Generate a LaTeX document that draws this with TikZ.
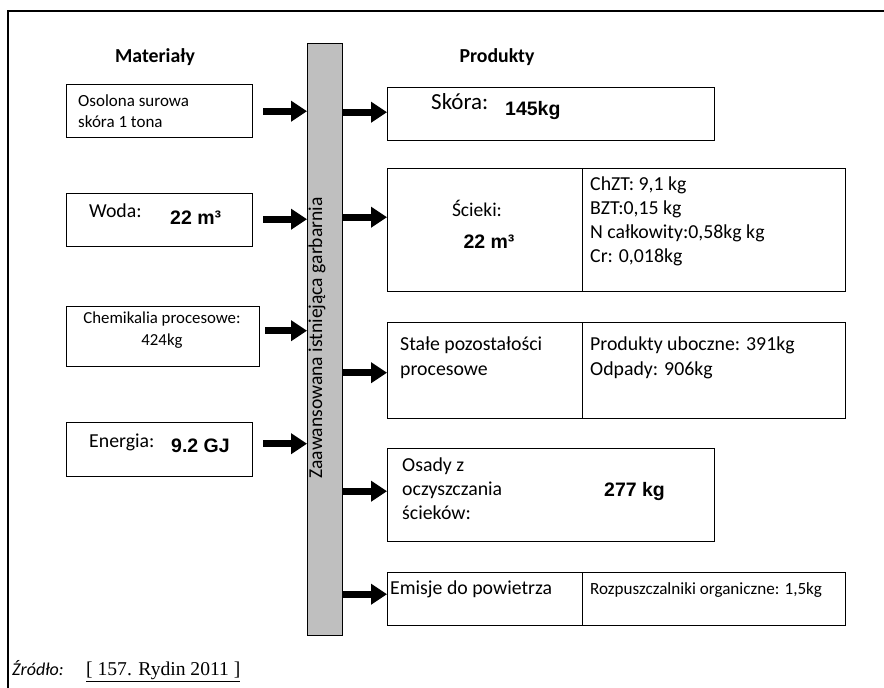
\documentclass[tikz,border=0pt]{standalone}
\usepackage{fontspec}
\setmainfont{Carlito}
\newfontfamily\numfont{Liberation Sans}
\newfontfamily\srcfont{Liberation Serif}
\usetikzlibrary{arrows.meta,calc}
\tikzset{
  box/.style={draw, line width=1.4pt, anchor=north west, inner sep=0pt},
  txt/.style={anchor=north west, inner sep=0pt, align=left, font=\fontsize{19.8}{24}\selectfont},
  word/.style={anchor=mid west, inner sep=0pt, font=\fontsize{19.8}{22}\selectfont},
  num/.style={anchor=mid west, inner sep=0pt, font=\numfont\bfseries\fontsize{19.5}{22}\selectfont},
  head/.style={anchor=mid, inner sep=0pt, font=\bfseries\fontsize{19.8}{22}\selectfont},
  flow/.style={line width=7pt, -{Triangle[length=16pt,width=20pt]}},
}
\begin{document}
\begin{tikzpicture}[x=1pt,y=-1pt]
\useasboundingbox (0,0) rectangle (884,688);
% frame
\draw[line width=1.5pt] (8,688) -- (8,11) -- (884,11);
\node[head] (mat) at (155,60) {Materiały};
\node[head] (prod) at (497,60) {Produkty};

% tannery bar
\node[box, fill=black!25, minimum width=35pt, minimum height=592pt] (bar) at (307,43) {};
\node[rotate=90, inner sep=0pt, font=\fontsize{19.6}{22}\selectfont] (bar-t) at (317,338) {Zaawansowana istniejąca garbarnia};

% inputs
\node[box, minimum width=186pt, minimum height=53pt] (hide) at (66,84) {};
\node[txt, font=\fontsize{17}{21}\selectfont] (hide-t) at (78,94) {Osolona surowa\\skóra 1 tona};

\node[box, minimum width=186pt, minimum height=53pt] (water) at (66,193) {};
\node[word] (water-t) at (89,215) {Woda:};
\node[num] (water-n) at (170,222) {22 m³};

\node[box, minimum width=193pt, minimum height=60pt] (chem) at (66,306) {};
\node[align=center, inner sep=0pt, font=\fontsize{16.8}{22}\selectfont] (chem-t) at (162,330) {Chemikalia procesowe:\\424kg};

\node[box, minimum width=186pt, minimum height=54pt] (energy) at (66,422) {};
\node[word] (energy-t) at (89,445) {Energia:};
\node[num] (energy-n) at (171,450) {9.2 GJ};

% outputs
\node[box, minimum width=327pt, minimum height=53pt] (leather) at (387,87) {};
\node[word, font=\fontsize{23}{26}\selectfont] (leather-t) at (431,107) {Skóra:};
\node[num] (leather-n) at (505,113) {145kg};

\node[box, minimum width=195pt, minimum height=123pt] (waste) at (387,168) {};
\node[box, minimum width=263pt, minimum height=123pt] (waste-r) at (582,168) {};
\node[anchor=mid, inner sep=0pt, font=\fontsize{19.5}{22}\selectfont] (waste-t) at (477,214) {Ścieki:};
\node[anchor=mid, inner sep=0pt, font=\numfont\bfseries\fontsize{19.5}{22}\selectfont] (waste-n) at (489,246) {22 m³};
\node[txt] (waste-r-t) at (590,177) {ChZT: 9,1 kg\\BZT:0,15 kg\\N całkowity:0,58kg kg\\Cr: 0,018kg};

\node[box, minimum width=195pt, minimum height=96pt] (solid) at (387,322) {};
\node[box, minimum width=263pt, minimum height=96pt] (solid-r) at (582,322) {};
\node[txt, font=\fontsize{19.8}{25}\selectfont] (solid-t) at (400,337) {Stałe pozostałości\\procesowe};
\node[txt, font=\fontsize{19.8}{25}\selectfont] (solid-r-t) at (590,337) {Produkty uboczne: 391kg\\Odpady: 906kg};

\node[box, minimum width=327pt, minimum height=93pt] (sludge) at (387,448) {};
\node[txt] (sludge-t) at (402,458) {Osady z\\oczyszczania\\ścieków:};
\node[num] (sludge-n) at (604,494) {277 kg};

\node[box, minimum width=195pt, minimum height=53pt] (air) at (387,572) {};
\node[box, minimum width=263pt, minimum height=53pt] (air-r) at (582,572) {};
\node[word] (air-t) at (390,592) {Emisje do powietrza};
\node[word, font=\fontsize{17.1}{20}\selectfont] (air-r-t) at (590,592) {Rozpuszczalniki organiczne: 1,5kg};

% flows
\draw[flow, shorten <=10pt] (hide.east) -- (hide.east -| bar.west);
\draw[flow, shorten <=10pt] ([yshift=1pt]water.east) -- ([yshift=1pt]water.east -| bar.west);
\draw[flow, shorten <=5pt] ([yshift=6pt]chem.east) -- ([yshift=6pt]chem.east -| bar.west);
\draw[flow, shorten <=10pt] ([yshift=6pt]energy.east) -- ([yshift=6pt]energy.east -| bar.west);
\draw[flow] ([yshift=2pt]leather.west -| bar.east) -- ([yshift=2pt]leather.west);
\draw[flow] ([yshift=13pt]waste.west -| bar.east) -- ([yshift=13pt]waste.west);
\draw[flow] ([yshift=-2pt]solid.west -| bar.east) -- ([yshift=-2pt]solid.west);
\draw[flow] ([yshift=4pt]sludge.west -| bar.east) -- ([yshift=4pt]sludge.west);
\draw[flow] ([yshift=5pt]air.west -| bar.east) -- ([yshift=5pt]air.west);

% source
\node[word, font=\itshape\fontsize{18}{20}\selectfont] (src) at (12,673) {Źródło:};
\node[anchor=mid west, inner sep=0pt, font=\srcfont\fontsize{19.6}{22}\selectfont] (src-ref) at (86,673) {\underline{[ 157. Rydin 2011 ]}};
\end{tikzpicture}
\end{document}
